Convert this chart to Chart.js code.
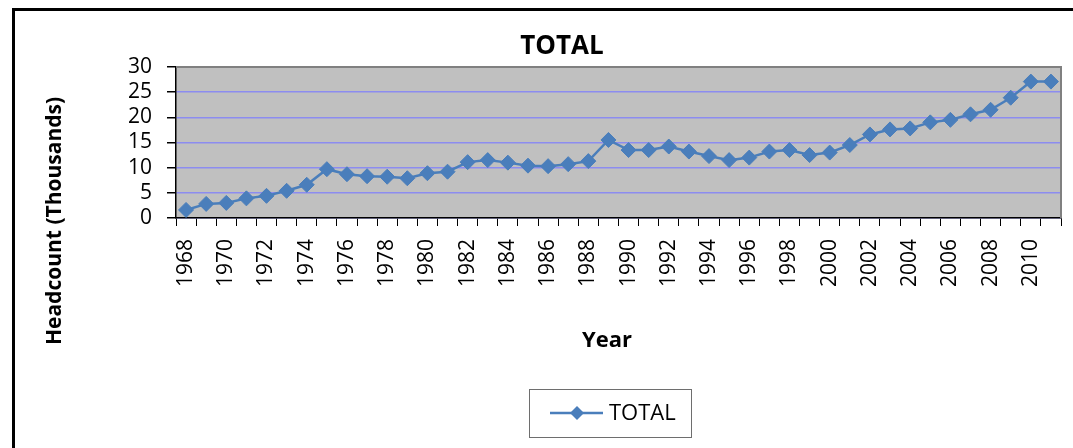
<!DOCTYPE html>
<html>
<head>
<meta charset="utf-8">
<script src="https://cdn.jsdelivr.net/npm/chart.js@4/dist/chart.umd.min.js"></script>
<style>
  body { margin: 0; background: #fff; }
  canvas { display: block; }
</style>
</head>
<body>
<canvas id="lineChart" width="1073" height="448"></canvas>
<script>
// chart data
var years = [];
for (var y = 1968; y <= 2011; y++) years.push(String(y));

var totals = [
  1.6, 2.8, 3.0, 3.9, 4.4, 5.4, 6.6, 9.7, 8.7, 8.3,
  8.2, 7.9, 8.9, 9.2, 11.1, 11.5, 11.0, 10.4, 10.3, 10.7,
  11.3, 15.5, 13.5, 13.5, 14.2, 13.2, 12.3, 11.5, 12.0, 13.2,
  13.5, 12.5, 13.0, 14.5, 16.6, 17.6, 17.8, 19.0, 19.5, 20.6,
  21.5, 23.9, 27.1, 27.1
];

var yTicks = [0, 5, 10, 15, 20, 25, 30];

var FONT = "'Open Sans', Lato, sans-serif";
var BLUE = "#4a7ebb";

// plot background, frame, titles and legend box
var extras = {
  id: "extras",
  beforeDraw: function (chart) {
    var ctx = chart.ctx, a = chart.chartArea;
    ctx.save();
    ctx.fillStyle = "#fff";
    ctx.fillRect(0, 0, chart.width, chart.height);
    ctx.fillStyle = "#c0c0c0";
    ctx.fillRect(a.left, a.top, a.right - a.left, a.bottom - a.top);
    ctx.restore();
  },
  beforeDatasetsDraw: function (chart) {
    var ctx = chart.ctx, a = chart.chartArea;
    ctx.save();
    ctx.strokeStyle = "#808080";
    ctx.lineWidth = 2;
    ctx.beginPath();
    ctx.moveTo(a.left, a.top);
    ctx.lineTo(a.right, a.top);
    ctx.lineTo(a.right, a.bottom);
    ctx.stroke();
    ctx.restore();
  },
  afterDraw: function (chart) {
    var ctx = chart.ctx;
    ctx.save();
    // outer frame
    ctx.strokeStyle = "#000";
    ctx.lineWidth = 3;
    ctx.beginPath();
    ctx.moveTo(13.5, 448);
    ctx.lineTo(13.5, 9.5);
    ctx.lineTo(1073, 9.5);
    ctx.stroke();

    ctx.fillStyle = "#000";
    ctx.textAlign = "center";
    ctx.textBaseline = "middle";

    // chart title
    ctx.font = "bold 26px " + FONT;
    ctx.fillText("TOTAL", 562, 47);

    // y axis title
    ctx.font = "bold 21px " + FONT;
    ctx.save();
    ctx.translate(55, 221);
    ctx.rotate(-Math.PI / 2);
    ctx.fillText("Headcount (Thousands)", 0, 0);
    ctx.restore();

    // x axis title
    ctx.font = "bold 22px " + FONT;
    ctx.fillText("Year", 607, 341);

    // legend
    ctx.strokeStyle = "#6e6e6e";
    ctx.lineWidth = 1;
    ctx.strokeRect(529.5, 389.5, 162, 48);
    ctx.strokeStyle = BLUE;
    ctx.lineWidth = 2.5;
    ctx.beginPath();
    ctx.moveTo(550, 413);
    ctx.lineTo(603, 413);
    ctx.stroke();
    ctx.fillStyle = BLUE;
    ctx.beginPath();
    ctx.moveTo(577, 406);
    ctx.lineTo(584, 413);
    ctx.lineTo(577, 420);
    ctx.lineTo(570, 413);
    ctx.closePath();
    ctx.fill();
    ctx.fillStyle = "#000";
    ctx.font = "22px " + FONT;
    ctx.textAlign = "left";
    ctx.fillText("TOTAL", 609, 414);
    ctx.restore();
  }
};

var ctxLine = document.getElementById("lineChart").getContext("2d");
var lineChart = new Chart(ctxLine, {
  type: "line",
  data: {
    labels: years,
    datasets: [
      {
        label: "TOTAL",
        data: totals,
        borderColor: BLUE,
        borderWidth: 2.5,
        backgroundColor: BLUE,
        pointStyle: "rectRot",
        pointRadius: 7.5,
        pointBorderWidth: 1,
        pointBackgroundColor: BLUE,
        pointBorderColor: BLUE,
        tension: 0,
        fill: false,
      },
    ],
  },
  options: {
    responsive: false,
    animation: false,
    layout: { padding: { left: 116, top: 67, right: 12, bottom: 0 } },
    plugins: {
      legend: { display: false },
      tooltip: { enabled: false },
      title: { display: false },
    },
    scales: {
      x: {
        offset: true,
        grid: {
          offset: true,
          drawOnChartArea: false,
          tickLength: 8,
          tickColor: "#000",
        },
        border: { color: "#000", width: 1.5 },
        ticks: {
          autoSkip: false,
          maxRotation: 90,
          minRotation: 90,
          padding: 13,
          color: "#000",
          font: { family: FONT, size: 21 },
          callback: function (val, i) {
            return i % 2 === 0 ? years[i] : "";
          },
        },
        afterFit: function (scale) {
          scale.height = 230;
          scale.paddingLeft = 0;
          scale.paddingRight = 0;
        },
      },
      y: {
        min: 0,
        max: 30,
        afterBuildTicks: function (scale) {
          scale.ticks = yTicks.map(function (v) { return { value: v }; });
        },
        grid: {
          color: "#8c8cf0",
          lineWidth: 1.5,
          tickLength: 9,
          tickColor: "#000",
        },
        border: { color: "#000", width: 1.5 },
        ticks: {
          autoSkip: false,
          padding: 15,
          color: "#000",
          font: { family: FONT, size: 21 },
        },
        afterFit: function (scale) {
          scale.width = 60;
          scale.paddingTop = 0;
          scale.paddingBottom = 0;
        },
      },
    },
  },
  plugins: [extras],
});
</script>
</body>
</html>
